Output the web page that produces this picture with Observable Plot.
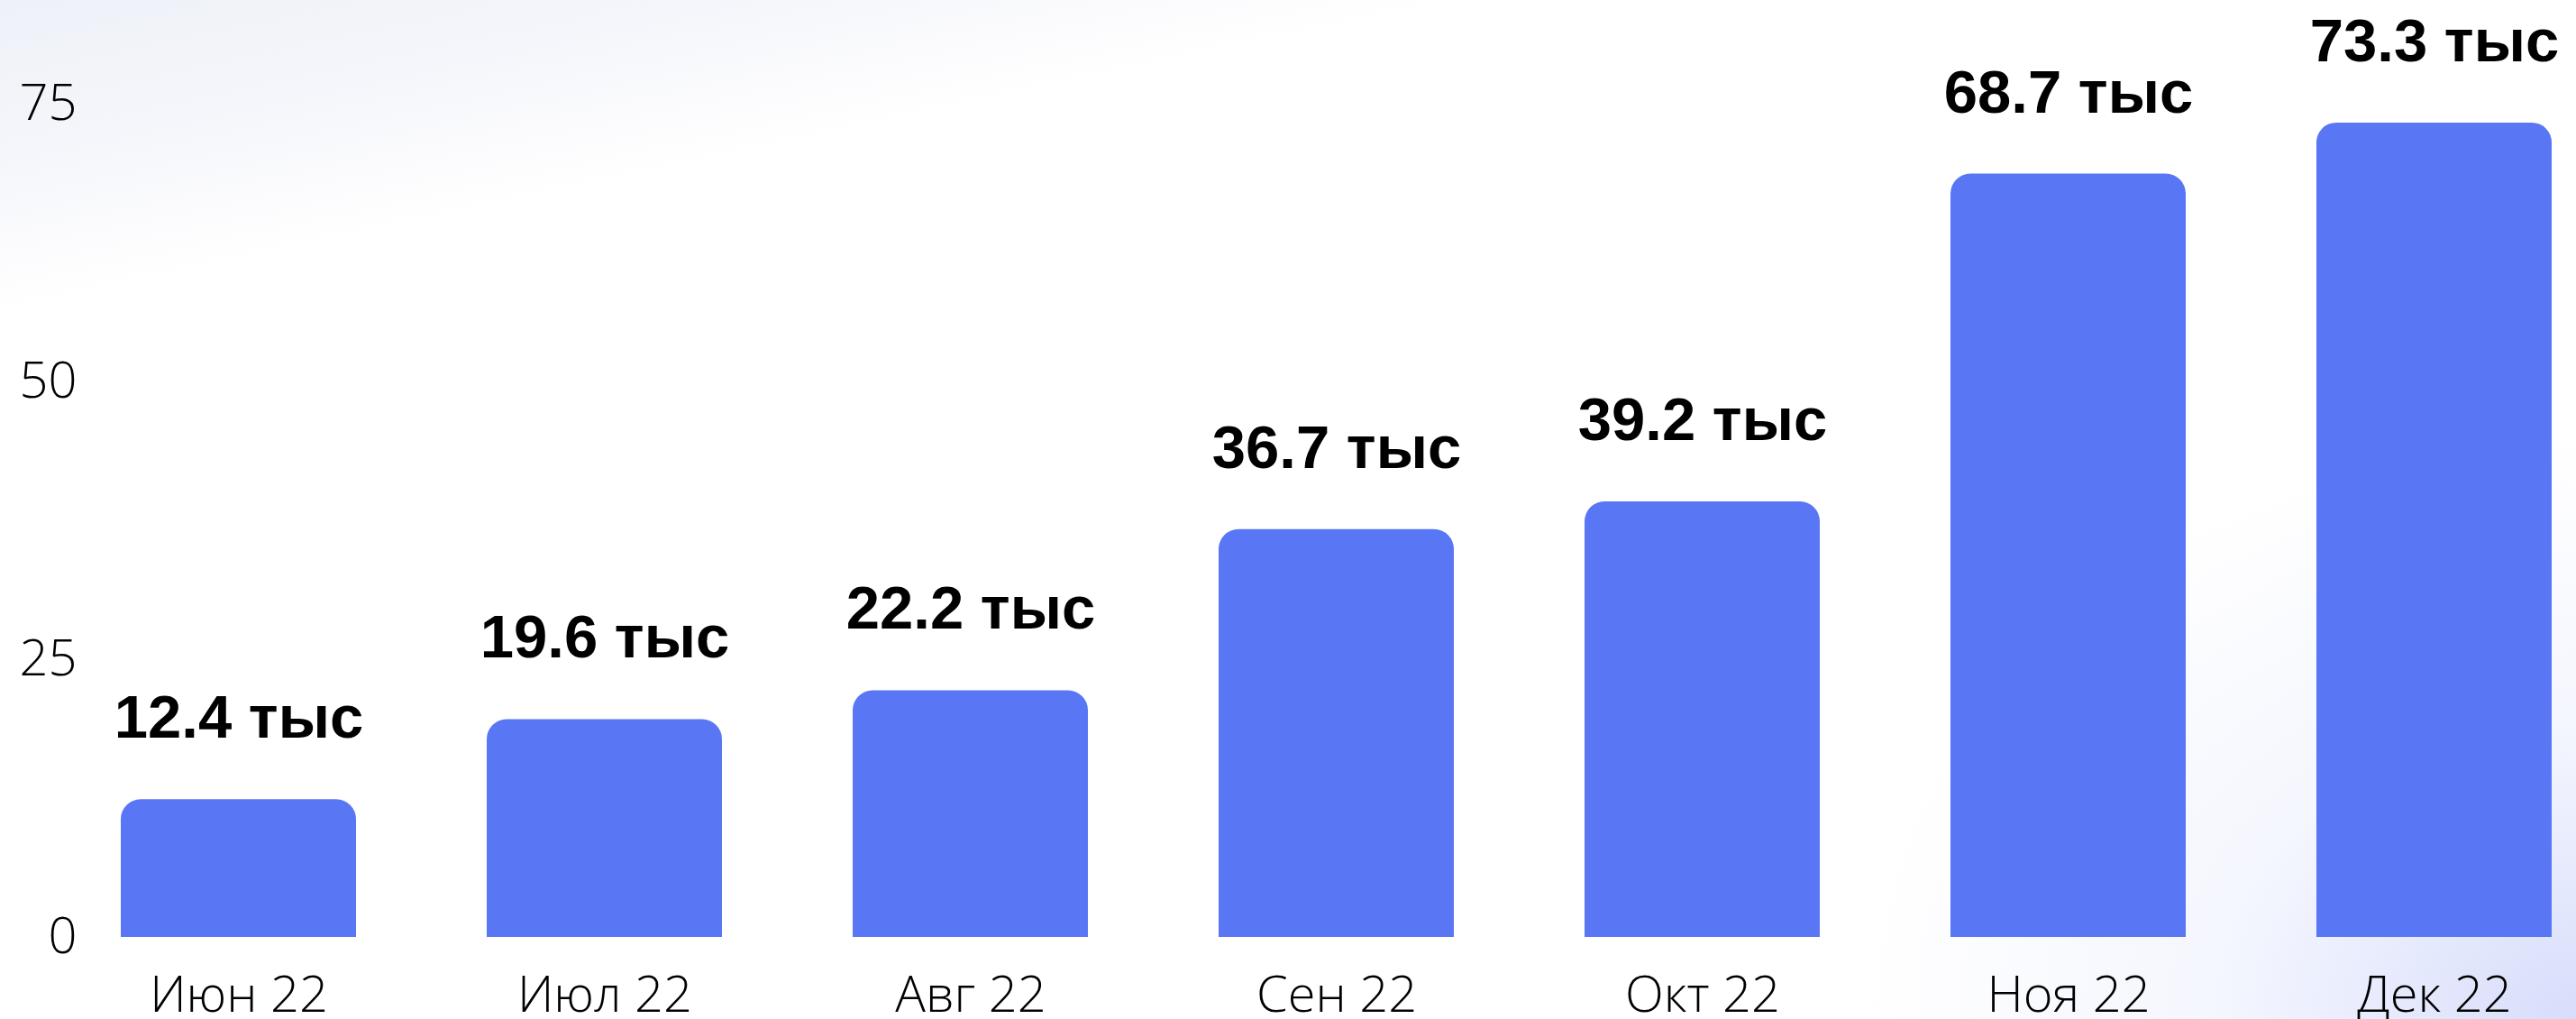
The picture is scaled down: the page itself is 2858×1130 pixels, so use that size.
<!DOCTYPE html>
<html>
<head>
<meta charset="utf-8">
<script src="https://cdn.jsdelivr.net/npm/d3@7"></script>
<script src="https://cdn.jsdelivr.net/npm/@observablehq/plot@0.6"></script>
<style>
  html, body { margin: 0; padding: 0; }
  body {
    width: 2858px; height: 1130px; overflow: hidden;
    background:
      radial-gradient(ellipse 800px 650px at 100% 100%, rgba(205,213,250,0.8), rgba(225,230,252,0.35) 50%, rgba(255,255,255,0) 100%),
      linear-gradient(168deg, #eef1f8 0%, #f5f6fb 10%, rgba(255,255,255,0) 20%),
      #ffffff;
  }
  #chart svg { display: block; background: transparent; }
</style>
</head>
<body>
<div id="chart"></div>
<script>
const months = ["Июн 22", "Июл 22", "Авг 22", "Сен 22", "Окт 22", "Ноя 22", "Дек 22"];
const values = [12.4, 19.6, 22.2, 36.7, 39.2, 68.7, 73.3];
const unit = "тыс";
const yTicks = [0, 25, 50, 75];

const data = months.map((m, i) => ({month: m, value: values[i], label: `${d3.format(".1f")(values[i])} ${unit}`}));
const barColor = "#5976F5";

const chart = Plot.plot({
  width: 2858,
  height: 1130,
  marginLeft: 112,
  marginRight: 5,
  marginTop: 115,
  marginBottom: 91,
  style: {background: "transparent", color: "#000", overflow: "visible"},
  x: {domain: months, paddingInner: 0.358, paddingOuter: 0.05, label: null},
  y: {domain: [0, 75], ticks: yTicks, label: null},
  marks: [
    Plot.barY(data, {x: "month", y: "value", fill: barColor, rx: 22}),
    Plot.barY(data, {x: "month", y1: 0, y2: d => d.value / 2, fill: barColor}),
    Plot.text(data, {x: "month", y: "value", text: "label", dy: -90, fontSize: 67, fontWeight: "bold", fontFamily: "Liberation Sans, Arial, sans-serif", fill: "#000"}),
    Plot.axisY({ticks: yTicks, tickSize: 0, tickPadding: 27, fontSize: 56, label: null, fontFamily: "Open Sans", fontWeight: 300}),
    Plot.axisX({tickSize: 0, tickPadding: 43, fontSize: 56, label: null, fontFamily: "Open Sans", fontWeight: 300})
  ]
});
document.getElementById("chart").appendChild(chart);
</script>
</body>
</html>
